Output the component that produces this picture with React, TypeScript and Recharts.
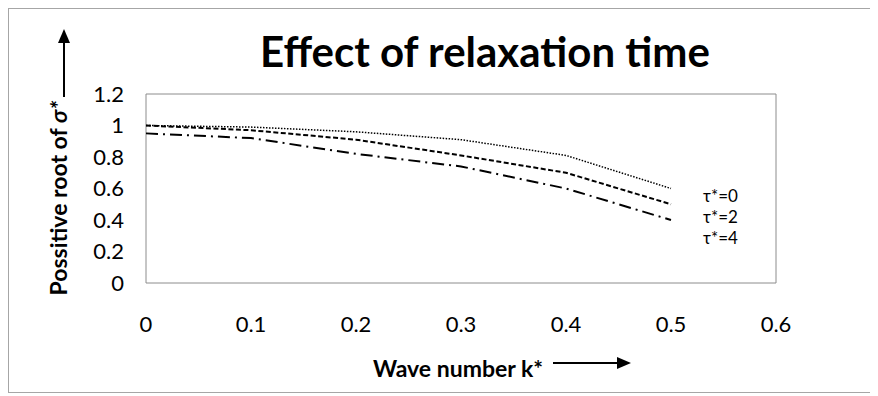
import { Line, LineChart, ReferenceArea, XAxis, YAxis } from "recharts";

const waveNumber = [0, 0.1, 0.2, 0.3, 0.4, 0.5];
const tau0 = [1.0, 0.99, 0.96, 0.91, 0.81, 0.6];
const tau2 = [1.0, 0.97, 0.91, 0.81, 0.7, 0.5];
const tau4 = [0.95, 0.92, 0.82, 0.74, 0.6, 0.4];

const seriesNames = ["τ*=0", "τ*=2", "τ*=4"];
const xTicks = [0, 0.1, 0.2, 0.3, 0.4, 0.5, 0.6];
const yTicks = [0, 0.2, 0.4, 0.6, 0.8, 1, 1.2];

const data = waveNumber.map((k, i) => ({
  k,
  t0: tau0[i],
  t2: tau2[i],
  t4: tau4[i],
}));

const FONT = "Lato, Carlito, 'Open Sans', sans-serif";

interface TickProps {
  x?: number;
  y?: number;
  payload?: { value: number };
}

function XTick({ x, y, payload }: TickProps) {
  if (x === undefined || y === undefined || !payload) return null;
  return (
    <text
      x={x}
      y={y + 40}
      textAnchor="middle"
      dominantBaseline="central"
      fill="#000"
      fontSize={22}
      fontFamily={FONT}
    >
      {String(payload.value)}
    </text>
  );
}

export default function App() {
  return (
    <div
      style={{
        position: "relative",
        width: 868,
        height: 385,
        boxSizing: "border-box",
        border: "1px solid #a6a6a6",
        background: "#fff",
      }}
    >
      <LineChart
        width={866}
        height={383}
        data={data}
        margin={{ top: 85, right: 99, left: 77, bottom: 79 }}
      >
        <XAxis
          dataKey="k"
          type="number"
          domain={[0, 0.6]}
          ticks={xTicks}
          axisLine={false}
          tickLine={false}
          tickSize={0}
          tickMargin={0}
          height={30}
          tick={<XTick />}
        />
        <YAxis
          type="number"
          domain={[0, 1.2]}
          ticks={yTicks}
          axisLine={false}
          tickLine={false}
          tickSize={0}
          tickMargin={22}
          width={60}
          tick={{ fill: "#000", fontSize: 22, fontFamily: FONT }}
        />
        <ReferenceArea
          x1={0}
          x2={0.6}
          y1={0}
          y2={1.2}
          fill="none"
          stroke="#8c8c8c"
          strokeWidth={1}
        />
        <Line
          type="linear"
          dataKey="t0"
          name={seriesNames[0]}
          stroke="#000"
          strokeWidth={1.5}
          strokeDasharray="1.5 1.5"
          dot={false}
          isAnimationActive={false}
        />
        <Line
          type="linear"
          dataKey="t2"
          name={seriesNames[1]}
          stroke="#000"
          strokeWidth={2}
          strokeDasharray="5 2.5"
          dot={false}
          isAnimationActive={false}
        />
        <Line
          type="linear"
          dataKey="t4"
          name={seriesNames[2]}
          stroke="#000"
          strokeWidth={2}
          strokeDasharray="12 5 2 5"
          dot={false}
          isAnimationActive={false}
        />
      </LineChart>

      {/* title, axis titles with arrows, and the series labels */}
      <svg
        width={866}
        height={383}
        style={{ position: "absolute", left: 0, top: 0, pointerEvents: "none" }}
        fontFamily={FONT}
      >
        <text
          x={476}
          y={42}
          textAnchor="middle"
          dominantBaseline="central"
          fontSize={42}
          fontWeight="bold"
          fill="#000"
        >
          Effect of relaxation time
        </text>

        <line x1={55} y1={88} x2={55} y2={32} stroke="#000" strokeWidth={2} />
        <polygon points="55,20 49,34 61,34" fill="#000" />
        <text
          x={49}
          y={189}
          transform="rotate(-90 49 189)"
          textAnchor="middle"
          dominantBaseline="central"
          fontSize={23}
          fontWeight="bold"
          fill="#000"
        >
          Possitive root of <tspan fontStyle="italic">σ*</tspan>
        </text>

        <text
          x={449}
          y={359}
          textAnchor="middle"
          dominantBaseline="central"
          fontSize={23}
          fontWeight="bold"
          fill="#000"
        >
          Wave number k*
        </text>
        <line x1={544} y1={354} x2={610} y2={354} stroke="#000" strokeWidth={2} />
        <polygon points="622,354 608,348 608,360" fill="#000" />

        {seriesNames.map((name, i) => (
          <text
            key={name}
            x={694}
            y={186 + i * 21}
            dominantBaseline="central"
            fontSize={17}
            fill="#000"
          >
            {name}
          </text>
        ))}
      </svg>
    </div>
  );
}
